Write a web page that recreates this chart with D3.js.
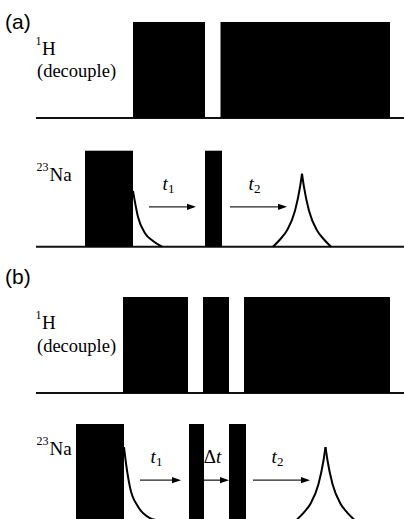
<!DOCTYPE html>
<html><head><meta charset="utf-8">
<script src="https://cdn.jsdelivr.net/npm/d3@7"></script>
<style>
html,body{margin:0;padding:0;background:#fff;overflow:hidden}
</style>
</head><body>
<svg id="c" width="404" height="519"></svg>
<script>
// Pulse sequence timings, in time units along the shared horizontal axis
const panelLabels = ["(a)", "(b)"];
const channelNames = ["H", "Na"];
const channelIsotopes = ["1", "23"];

const hPulsesA = [[97, 169], [184.5, 354]];
const naPulsesA = [[49, 97], [169, 186]];
const hPulsesB = [[87, 152], [167, 193], [208, 354]];
const naPulsesB = [[40, 88], [153, 168], [193, 210]];

// Evolution / delay periods: start, end, symbol, index
const delaysA = [[113, 160, "t", "1"], [194, 251, "t", "2"]];
const delaysB = [[104, 145, "t", "1"], [168, 193, "Δt", ""], [217, 274, "t", "2"]];

// Free induction decay after the first sodium pulse (time offset, relative amplitude)
const fidOffsetsA = [0, 5, 12, 20, 29];
const fidAmpsA = [0.58, 0.31, 0.14, 0.06, 0];
const fidOffsetsB = [0, 1, 6, 14, 26, 32];
const fidAmpsB = [0.76, 0.67, 0.34, 0.14, 0.02, 0];

// Echo, one half (distance from the echo top, relative amplitude)
const echoOffsets = [0, 2, 7, 15, 22, 29];
const echoAmps = [0.76, 0.62, 0.375, 0.17, 0.075, 0];
const echoCentreA = 266;
const echoCentreB = 289.5;

const SERIF = '"Liberation Serif", "Times New Roman", "DejaVu Serif", serif';
const SANS = '"Liberation Sans", Arial, sans-serif';

const svg = d3.select("#c");
const x = d3.scaleLinear().domain([0, 368]).range([36, 404]);

function track(base) {
  return d3.scaleLinear().domain([0, 1]).range([base, base - 96]);
}

const tracks = [
  {panel: 0, ch: 0, y: track(118), pulses: hPulsesA},
  {panel: 0, ch: 1, y: track(246.7), pulses: naPulsesA, delays: delaysA,
   fid: [fidOffsetsA, fidAmpsA], echo: echoCentreA},
  {panel: 1, ch: 0, y: track(393), pulses: hPulsesB},
  {panel: 1, ch: 1, y: track(520), pulses: naPulsesB, delays: delaysB,
   fid: [fidOffsetsB, fidAmpsB], echo: echoCentreB}
];

function serifText(g) {
  return g.append("text").attr("font-family", SERIF).style("font-family", SERIF).attr("fill", "#000");
}

// Panel letters
svg.selectAll("text.panel").data(panelLabels).join("text")
  .attr("class", "panel")
  .attr("font-family", SANS).style("font-family", SANS)
  .attr("x", 5)
  .attr("y", (d, i) => i === 0 ? 29 : 284)
  .attr("font-size", 21)
  .text(d => d);

const line = d3.line().x(d => d[0]).y(d => d[1]).curve(d3.curveMonotoneX);

tracks.forEach(tr => {
  const g = svg.append("g");
  const base = tr.y(0);

  // baseline
  g.append("line")
    .attr("x1", x(0)).attr("x2", x(368))
    .attr("y1", base).attr("y2", base)
    .attr("stroke", "#111").attr("stroke-width", 2);

  // rectangular pulses / decoupling blocks
  g.selectAll("rect").data(tr.pulses).join("rect")
    .attr("x", d => x(d[0]))
    .attr("width", d => x(d[1]) - x(d[0]))
    .attr("y", tr.y(1))
    .attr("height", tr.y(0) - tr.y(1))
    .attr("fill", "#000");

  // channel label: isotope superscript, then nucleus
  const lbl = tr.ch === 0
    ? (tr.panel === 0 ? 55 : 329)
    : (tr.panel === 0 ? 180.5 : 455);
  const isoX = tr.ch === 0 ? 35.5 : 36.5;
  const nameX = tr.ch === 0 ? 42 : 49.5;
  serifText(g).attr("x", isoX).attr("y", lbl - 10)
    .attr("font-size", 12).text(channelIsotopes[tr.ch]);
  serifText(g).attr("x", nameX).attr("y", lbl)
    .attr("font-size", 19).text(channelNames[tr.ch]);
  if (tr.ch === 0) {
    serifText(g).attr("x", 37).attr("y", tr.panel === 0 ? 77 : 352)
      .attr("font-size", 18.5).text("(decouple)");
  }

  if (tr.delays) {
    const ay = tr.y(0.415);
    tr.delays.forEach(d => {
      const x0 = x(d[0]), x1 = x(d[1]);
      g.append("line")
        .attr("x1", x0).attr("x2", x1 - 7)
        .attr("y1", ay).attr("y2", ay)
        .attr("stroke", "#222").attr("stroke-width", 1.3);
      g.append("path")
        .attr("d", `M${x1},${ay} L${x1 - 9},${ay - 3.2} L${x1 - 9},${ay + 3.2} Z`)
        .attr("fill", "#000");
      const t = serifText(g)
        .attr("x", (x0 + x1) / 2 - 4).attr("y", tr.y(0.59))
        .attr("text-anchor", "middle").attr("font-size", 19);
      if (d[2] === "Δt") {
        t.append("tspan").text("Δ");
        t.append("tspan").attr("font-style", "italic").text("t");
      } else {
        t.append("tspan").attr("font-style", "italic").text(d[2]);
        t.append("tspan").attr("font-size", 13).attr("dy", 3).text(d[3]);
      }
    });

    // FID following the first pulse
    const start = tr.pulses[0][1];
    const fidPts = tr.fid[0].map((o, i) => [x(start + o), tr.y(tr.fid[1][i])]);
    g.append("path").attr("d", line(fidPts))
      .attr("fill", "none").attr("stroke", "#000").attr("stroke-width", 2);

    // echo: two halves meeting in a cusp
    [-1, 1].forEach(s => {
      const pts = echoOffsets.map((o, i) => [x(tr.echo + s * o), tr.y(echoAmps[i])]);
      if (s < 0) pts.reverse();
      g.append("path").attr("d", line(pts))
        .attr("fill", "none").attr("stroke", "#000").attr("stroke-width", 2);
    });
  }
});
</script>
</body></html>
